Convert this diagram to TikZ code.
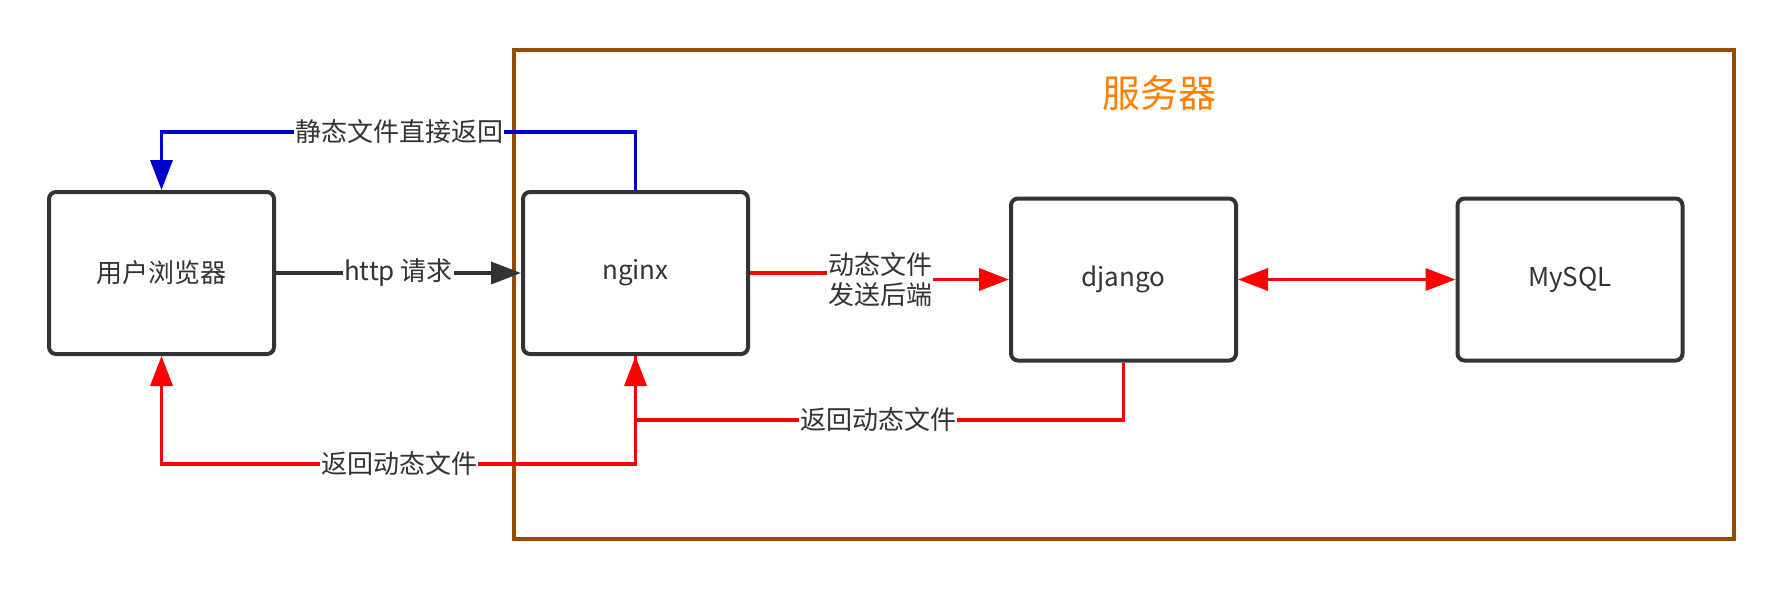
\documentclass[tikz,border=0pt]{standalone}
\usepackage{fontspec}
\setmainfont{Noto Sans CJK SC}
\usetikzlibrary{arrows.meta}
\definecolor{txt}{HTML}{333333}
\definecolor{bluel}{HTML}{0000CC}
\definecolor{redl}{HTML}{FF0000}
\definecolor{frm}{HTML}{994C00}
\definecolor{ttl}{HTML}{FF8000}
\begin{document}
\begin{tikzpicture}[x=1pt,y=-1pt,
  box/.style={draw=txt, line width=4pt, rounded corners=7pt, minimum width=225pt, minimum height=162pt, text=txt, font=\fontsize{26}{30}\selectfont, inner sep=0pt},
  conn/.style={line width=3.6pt},
  lbl/.style={fill=white, text=txt, font=\fontsize{26}{30}\selectfont, inner sep=1pt, align=center},
  >={Triangle[length=30pt,width=22pt]}]
\useasboundingbox (0,0) rectangle (1784,590);
\node[draw=frm, line width=3.2pt, minimum width=1220pt, minimum height=489pt, inner sep=0pt] (frame) at (1124,294.5) {};
\node[text=ttl, font=\fontsize{38}{44}\selectfont] (title) at (1159,93) {服务器};

\node[box] (br) at (161.5,273) {用户浏览器};
\node[box] (ng) at (635.5,273) {nginx};
\node[box] (dj) at (1123.5,279.5) {django};
\node[box] (my) at (1570,279.5) {MySQL};

\coordinate (cb) at (399,132);
\coordinate (cm) at (880,280);
\coordinate (cu) at (878,420);
\coordinate (cl) at (399,464);

% http request
\draw[conn, draw=txt, ->] (br.east) -- (ng.west);
\node[lbl] (lhttp) at (398.5,273) {http 请求};

% static return
\draw[conn, draw=bluel, ->] (ng.north) |- (cb) -| (br.north);
\node[lbl] (lstat) at (cb) {静态文件直接返回};

% dynamic to backend
\draw[conn, draw=redl, ->] (ng.east) -| (cm) |- (dj.west);
\node[lbl] (ldyn) at (cm) {动态文件\\发送后端};

% django <-> mysql
\draw[conn, draw=redl, <->] (dj.east) -- (my.west);

% django -> nginx
\draw[conn, draw=redl, ->] (dj.south) |- (cu) -| (ng.south);
\node[lbl] (lret1) at (cu) {返回动态文件};

% nginx -> browser
\draw[conn, draw=redl, ->] (ng.south) |- (cl) -| (br.south);
\node[lbl] (lret2) at (cl) {返回动态文件};
\end{tikzpicture}
\end{document}
